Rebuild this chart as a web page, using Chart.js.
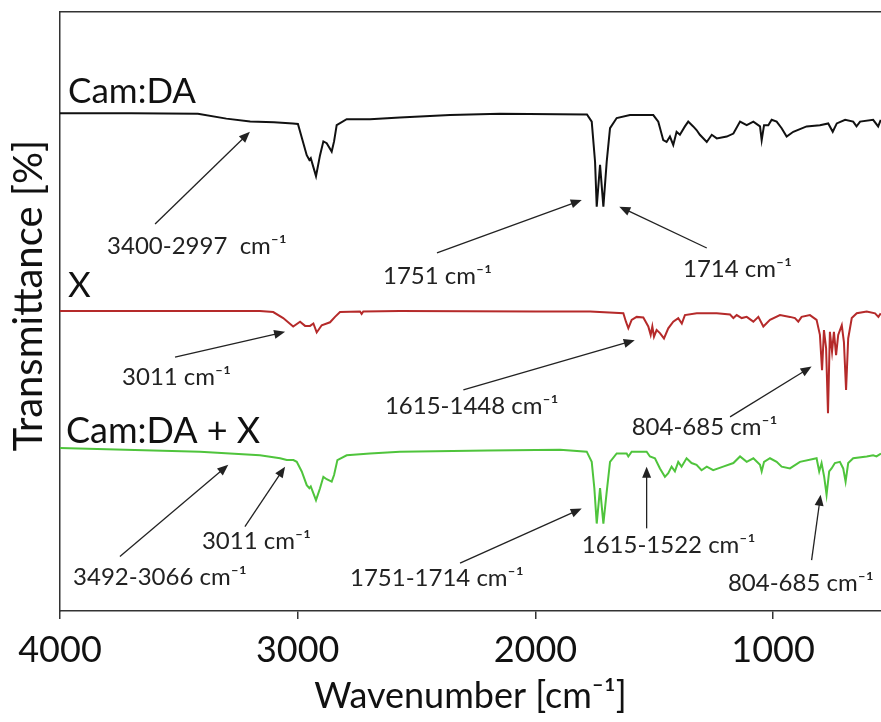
<!DOCTYPE html>
<html>
<head>
<meta charset="utf-8">
<title>FTIR spectra</title>
<script src="https://cdn.jsdelivr.net/npm/chart.js@4.4.1/dist/chart.umd.min.js"></script>
<style>
    html, body { margin: 0; padding: 0; background: #fff; }
    #wrap { width: 881px; height: 722px; }
</style>
</head>
<body>
<div id="wrap"><canvas id="ftirChart" width="881" height="722"></canvas></div>
<script>
// x ticks (wavenumber, cm-1)
const xTickValues = [4000, 3000, 2000, 1000];

// Cam:DA spectrum (black)
const waveCamDA = [4000, 3700, 3420, 3300, 3200, 3100, 3020, 2999, 2962, 2951, 2945, 2923, 2906, 2892, 2878, 2857, 2847, 2836, 2794, 2696, 2570, 2359, 2149, 1783, 1763, 1749, 1742, 1728, 1714, 1700, 1686, 1658, 1602, 1504, 1483, 1462, 1448, 1434, 1420, 1406, 1392, 1371, 1357, 1336, 1322, 1308, 1279, 1258, 1237, 1195, 1167, 1139, 1111, 1083, 1055, 1048, 1038, 1020, 1006, 985, 964, 943, 915, 859, 803, 768, 749, 732, 697, 663, 649, 634, 579, 558, 547];
const transCamDA = [83.1, 83.1, 83.0, 82.2, 81.7, 81.6, 81.4, 81.3, 76.1, 75.3, 75.6, 72.6, 76.1, 78.4, 78.1, 76.7, 78.4, 81.1, 82.1, 82.1, 82.4, 82.8, 83.0, 82.9, 81.7, 75.0, 67.5, 74.5, 67.5, 75.0, 80.6, 82.3, 82.8, 82.8, 81.7, 78.6, 78.3, 79.2, 77.8, 80.0, 79.5, 80.9, 81.7, 80.9, 80.3, 79.5, 78.3, 79.5, 78.9, 79.2, 79.7, 81.7, 81.1, 81.7, 80.9, 78.6, 81.1, 81.1, 82.0, 81.7, 80.6, 79.2, 80.0, 80.9, 81.1, 81.4, 80.0, 81.4, 82.0, 81.7, 80.9, 81.7, 82.0, 80.9, 82.0];

// X spectrum (red)
const waveX = [4000, 3400, 3159, 3103, 3061, 3019, 2990, 2969, 2948, 2934, 2920, 2899, 2878, 2864, 2843, 2822, 2738, 2731, 2724, 2570, 2000, 1770, 1630, 1619, 1609, 1595, 1574, 1546, 1525, 1515, 1508, 1501, 1490, 1476, 1459, 1441, 1420, 1399, 1384, 1371, 1321, 1237, 1181, 1167, 1153, 1132, 1111, 1083, 1062, 1041, 1013, 971, 929, 908, 894, 880, 845, 817, 803, 794, 786, 777, 769, 761, 752, 744, 735, 726, 711, 702, 693, 684, 669, 648, 606, 571, 557, 547];
const transX = [50.1, 50.1, 50.1, 49.9, 48.9, 47.5, 48.3, 47.6, 47.6, 48.0, 46.5, 47.7, 48.0, 48.2, 49.1, 49.9, 50.0, 49.6, 50.0, 50.1, 50.0, 50.0, 49.7, 48.3, 47.2, 48.6, 49.1, 49.0, 47.5, 46.1, 47.5, 45.8, 46.9, 46.4, 45.5, 47.2, 48.3, 48.9, 48.0, 49.4, 49.7, 49.7, 49.5, 48.9, 49.4, 48.9, 49.1, 48.3, 49.1, 47.5, 48.6, 49.4, 49.1, 48.9, 48.3, 49.1, 49.4, 48.6, 46.1, 40.2, 46.9, 43.9, 33.0, 46.6, 43.3, 46.6, 42.7, 46.1, 47.7, 44.9, 36.9, 45.5, 48.9, 49.7, 50.0, 49.7, 49.1, 49.7];

// Cam:DA + X spectrum (green)
const waveMix = [4000, 3411, 3159, 3074, 3046, 3018, 3004, 2983, 2962, 2951, 2945, 2923, 2906, 2892, 2878, 2857, 2847, 2833, 2794, 2696, 2570, 2200, 1896, 1784, 1763, 1752, 1742, 1728, 1714, 1700, 1686, 1658, 1616, 1609, 1595, 1532, 1518, 1497, 1476, 1455, 1441, 1427, 1413, 1399, 1385, 1364, 1343, 1322, 1301, 1279, 1252, 1210, 1167, 1139, 1111, 1083, 1055, 1048, 1038, 1013, 985, 964, 929, 887, 817, 806, 796, 785, 775, 764, 754, 740, 719, 705, 695, 684, 663, 606, 579, 565, 546];
const transMix = [27.2, 26.6, 26.0, 25.5, 25.2, 25.2, 24.9, 23.3, 21.0, 20.5, 20.8, 18.5, 20.5, 22.4, 22.0, 21.6, 22.7, 25.2, 26.0, 26.3, 26.6, 26.8, 26.9, 26.6, 24.9, 20.5, 14.6, 20.5, 14.6, 19.9, 24.9, 26.3, 26.3, 25.8, 26.6, 26.6, 25.8, 25.5, 23.8, 22.4, 23.0, 24.1, 23.3, 24.9, 24.1, 25.5, 24.7, 24.4, 23.5, 24.1, 23.5, 24.1, 24.7, 25.8, 24.9, 25.5, 24.4, 23.3, 24.9, 25.5, 24.9, 24.1, 23.8, 24.9, 25.5, 23.3, 24.7, 22.4, 19.4, 23.3, 23.8, 24.7, 24.9, 23.8, 21.6, 24.7, 25.5, 25.8, 26.0, 25.8, 26.3];

// curve names written next to each trace: [name, wavenumber, transmittance]
const seriesLabels = [
    ['Cam:DA', 3966, 84.8],
    ['X', 3966, 52.4],
    ['Cam:DA + X', 3975, 28.0]
];

// peak notes: [text, label wavenumber, label transmittance, arrow from (w, t), arrow to (w, t)]
const peakNotes = [
    ['3400-2997  cm⁻¹', 3802, 60.9, 3600, 64.6, 3201, 80.0],
    ['1751 cm⁻¹', 2641, 55.8, 2414, 59.8, 1805, 68.6],
    ['1714 cm⁻¹', 1379, 57.1, 1279, 60.6, 1647, 67.5],
    ['3011 cm⁻¹', 3739, 39.1, 3516, 42.4, 3053, 46.6],
    ['1615-1448 cm⁻¹', 2633, 34.1, 2303, 36.9, 1582, 45.2],
    ['804-685 cm⁻¹', 1595, 30.6, 1181, 32.4, 838, 40.8],
    ['3492-3066 cm⁻¹', 3945, 5.7, 3748, 9.1, 3292, 24.4],
    ['3011 cm⁻¹', 3403, 11.7, 3222, 14.1, 3053, 24.1],
    ['1751-1714 cm⁻¹', 2780, 5.5, 2317, 8.0, 1805, 17.1],
    ['1615-1522 cm⁻¹', 1805, 10.9, 1532, 13.8, 1532, 24.1],
    ['804-685 cm⁻¹', 1190, 4.7, 838, 8.5, 800, 19.4]
];

const yTitle = 'Transmittance [%]';

function toPoints(waves, values) {
    return waves.map((w, i) => ({ x: w, y: values[i] }));
}

// Draws y title, curve names, peak labels and arrows
const notesPlugin = {
    id: 'peakNotes',
    afterDatasetsDraw(chart) {
        const { ctx, chartArea, scales: { x, y } } = chart;
        ctx.save();

        // y axis title, a bit above the middle like the original figure
        ctx.save();
        ctx.translate(chartArea.left - 31, (chartArea.top + chartArea.bottom) / 2 - 16);
        ctx.rotate(-Math.PI / 2);
        ctx.font = '40px Lato';
        ctx.fillStyle = '#111';
        ctx.textAlign = 'center';
        ctx.textBaseline = 'middle';
        ctx.fillText(yTitle, 0, 0);
        ctx.restore();

        ctx.fillStyle = '#111';
        ctx.textAlign = 'left';
        ctx.textBaseline = 'alphabetic';
        seriesLabels.forEach(([name, w, t]) => {
            ctx.font = (name.length > 6 ? 36 : 35) + 'px Lato';
            ctx.fillText(name, x.getPixelForValue(w), y.getPixelForValue(t));
        });

        ctx.font = '24px Lato';
        ctx.textBaseline = 'middle';
        ctx.strokeStyle = '#222';
        ctx.fillStyle = '#222';
        ctx.lineWidth = 1.3;
        peakNotes.forEach(([text, lw, lt, w1, t1, w2, t2]) => {
            ctx.fillText(text, x.getPixelForValue(lw), y.getPixelForValue(lt));

            const x1 = x.getPixelForValue(w1), y1 = y.getPixelForValue(t1);
            const x2 = x.getPixelForValue(w2), y2 = y.getPixelForValue(t2);
            const ang = Math.atan2(y2 - y1, x2 - x1);
            const head = 11, half = 4.5;
            ctx.beginPath();
            ctx.moveTo(x1, y1);
            ctx.lineTo(x2 - Math.cos(ang) * head * 0.8, y2 - Math.sin(ang) * head * 0.8);
            ctx.stroke();
            ctx.beginPath();
            ctx.moveTo(x2, y2);
            ctx.lineTo(x2 - Math.cos(ang) * head - Math.sin(ang) * half, y2 - Math.sin(ang) * head + Math.cos(ang) * half);
            ctx.lineTo(x2 - Math.cos(ang) * head + Math.sin(ang) * half, y2 - Math.sin(ang) * head - Math.cos(ang) * half);
            ctx.closePath();
            ctx.fill();
        });

        ctx.restore();
    }
};

function drawChart() {
    const ctx = document.getElementById('ftirChart').getContext('2d');

    new Chart(ctx, {
        type: 'line',
        data: {
            datasets: [
                {
                    label: 'Cam:DA',
                    data: toPoints(waveCamDA, transCamDA),
                    borderColor: '#111111',
                    borderWidth: 2
                },
                {
                    label: 'X',
                    data: toPoints(waveX, transX),
                    borderColor: '#b52a2a',
                    borderWidth: 2
                },
                {
                    label: 'Cam:DA + X',
                    data: toPoints(waveMix, transMix),
                    borderColor: '#4fc43c',
                    borderWidth: 2
                }
            ]
        },
        options: {
            responsive: false,
            animation: false,
            parsing: false,
            elements: {
                point: { radius: 0 },
                line: { tension: 0 }
            },
            layout: {
                padding: { left: 60, top: 12, right: 0, bottom: 11.6 }
            },
            plugins: {
                legend: { display: false },
                tooltip: { enabled: false }
            },
            scales: {
                x: {
                    type: 'linear',
                    reverse: true,
                    min: 546,
                    max: 4000,
                    afterBuildTicks: scale => {
                        scale.ticks = xTickValues.map(v => ({ value: v }));
                    },
                    grid: {
                        display: true,
                        drawOnChartArea: false,
                        drawTicks: true,
                        tickLength: 8,
                        color: '#333',
                        lineWidth: 1.5
                    },
                    border: { display: true, color: '#333', width: 1.5 },
                    ticks: {
                        font: { family: 'Lato', size: 36, lineHeight: 1.0 },
                        color: '#111',
                        padding: 13,
                        maxRotation: 0,
                        autoSkip: false,
                        callback: v => String(v)
                    },
                    title: {
                        display: true,
                        text: 'Wavenumber [cm⁻¹]',
                        font: { family: 'Lato', size: 36, lineHeight: 0.8 },
                        color: '#111',
                        padding: { top: 0.6, bottom: 0 }
                    }
                },
                xTop: {
                    type: 'linear',
                    position: 'top',
                    axis: 'x',
                    ticks: { display: false },
                    grid: { display: false, drawTicks: false },
                    border: { display: true, color: '#333', width: 1.5 }
                },
                y: {
                    min: 0,
                    max: 100,
                    ticks: { display: false },
                    grid: { display: false, drawTicks: false },
                    border: { display: true, color: '#333', width: 1.5 }
                }
            }
        },
        plugins: [notesPlugin]
    });
}

document.fonts.load('34px Lato').then(drawChart, drawChart);
</script>
</body>
</html>
